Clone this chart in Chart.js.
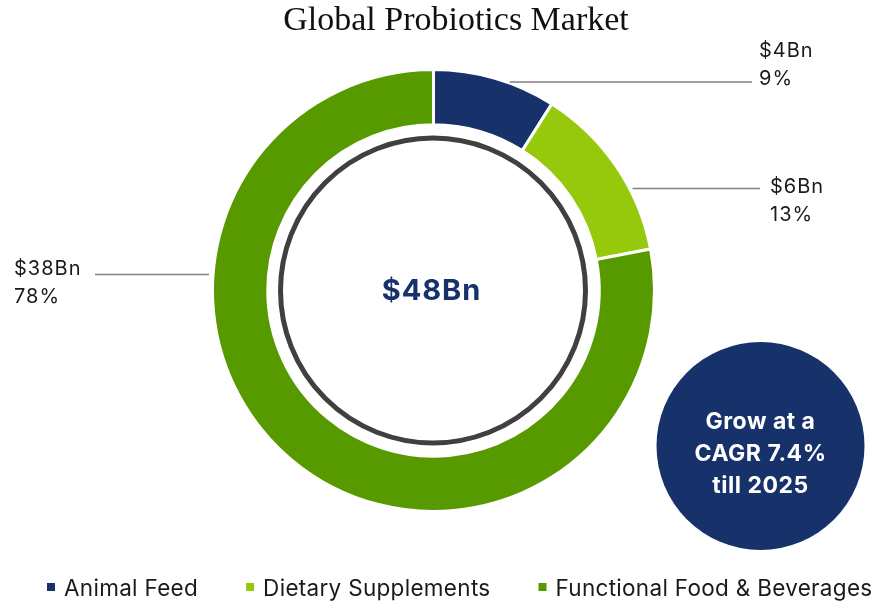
<!DOCTYPE html>
<html><head><meta charset="utf-8">
<script src="https://cdn.jsdelivr.net/npm/chart.js@4"></script>
<style>html,body{margin:0;padding:0;background:#fff;}#wrap{width:877px;height:603px;position:relative}canvas{display:block}</style>
</head><body><div id="wrap"><canvas id="c" width="877" height="603"></canvas></div>
<script>
const chartTitle = 'Global Probiotics Market';
const categories = ['Animal Feed', 'Dietary Supplements', 'Functional Food & Beverages'];
const marketBn = [4, 6, 38];
const sharePct = [9, 13, 78];
const totalLabel = '$48Bn';
const cagrLines = ['Grow at a', 'CAGR 7.4%', 'till 2025'];
const sliceColors = ['#17316a', '#96c90c', '#579a00'];

const NAVY = '#17316a';
const SANS = 'Inter, "Noto Sans", sans-serif';

// label layout (positions only, values come from arrays above)
const labelLayout = [
  { side: 'right', lineY: 82, lineEnd: 752, textX: 759, base1: 57, base2: 85 },
  { side: 'right', lineY: 188.5, lineEnd: 760, textX: 770, base1: 193, base2: 221 },
  { side: 'left', lineY: 274.5, lineEnd: 95, textX: 14, base1: 275, base2: 303 }
];

const overlay = {
  id: 'overlay',
  afterDatasetsDraw(chart) {
    const ctx = chart.ctx;
    const meta = chart.getDatasetMeta(0);
    const a0 = meta.data[0];
    const cx = a0.x, cy = a0.y, R = a0.outerRadius;

    ctx.save();
    // inner grey ring
    ctx.beginPath();
    ctx.arc(cx - 0.5, cy, 152.5, 0, Math.PI * 2);
    ctx.lineWidth = 5;
    ctx.strokeStyle = '#404040';
    ctx.stroke();

    // centre total
    ctx.fillStyle = NAVY;
    ctx.font = 'bold 29px ' + SANS;
    ctx.textAlign = 'center';
    ctx.textBaseline = 'alphabetic';
    ctx.letterSpacing = '1px';
    ctx.fillText(totalLabel, cx - 2, cy + 9);

    // leader lines + labels
    ctx.letterSpacing = '1px';
    ctx.font = '20px ' + SANS;
    ctx.textAlign = 'left';
    labelLayout.forEach((L, i) => {
      const dy = L.lineY - cy;
      const dx = Math.sqrt(Math.max(R * R - dy * dy, 0));
      ctx.beginPath();
      ctx.strokeStyle = '#808080';
      ctx.lineWidth = 1.5;
      if (L.side === 'right') {
        ctx.moveTo(cx + dx + 3, L.lineY);
        ctx.lineTo(L.lineEnd, L.lineY);
      } else {
        ctx.moveTo(cx - dx - 4, L.lineY);
        ctx.lineTo(L.lineEnd, L.lineY);
      }
      ctx.stroke();
      ctx.fillStyle = '#1a1a1a';
      ctx.fillText('$' + marketBn[i] + 'Bn', L.textX, L.base1);
      ctx.fillText(sharePct[i] + '%', L.textX, L.base2);
    });

    // CAGR bubble
    ctx.beginPath();
    ctx.arc(760.5, 446, 104, 0, Math.PI * 2);
    ctx.fillStyle = NAVY;
    ctx.fill();
    ctx.fillStyle = '#ffffff';
    ctx.font = 'bold 23px ' + SANS;
    ctx.textAlign = 'center';
    ctx.letterSpacing = '0.5px';
    const bases = [429, 461, 493];
    cagrLines.forEach((t, i) => ctx.fillText(t, 760.5, bases[i]));

    // title
    ctx.letterSpacing = '0px';
    ctx.fillStyle = '#111111';
    ctx.font = '34px "Liberation Serif", "Times New Roman", serif';
    ctx.textAlign = 'center';
    ctx.fillText(chartTitle, 456, 30);

    // legend
    ctx.font = '22.5px ' + SANS;
    ctx.textAlign = 'left';
    ctx.letterSpacing = '0.3px';
    let x = 47;
    categories.forEach((c, i) => {
      ctx.fillStyle = sliceColors[i];
      ctx.fillRect(x, 583, 8, 8);
      ctx.fillStyle = '#1a1a1a';
      ctx.fillText(c, x + 17, 596);
      x += 17 + ctx.measureText(c).width + 48;
    });
    ctx.restore();
  }
};

new Chart(document.getElementById('c'), {
  type: 'doughnut',
  data: {
    labels: categories,
    datasets: [{
      data: sharePct,
      backgroundColor: sliceColors,
      borderColor: '#ffffff',
      borderWidth: 3,
      hoverOffset: 0,
      offset: 0
    }]
  },
  options: {
    responsive: false,
    animation: false,
    devicePixelRatio: 1,
    cutout: '75%',
    layout: { padding: { left: 211, right: 221, top: 68, bottom: 90 } },
    plugins: {
      legend: { display: false },
      title: { display: false },
      tooltip: { enabled: false }
    },
    events: []
  },
  plugins: [overlay]
});
</script>
</body></html>
